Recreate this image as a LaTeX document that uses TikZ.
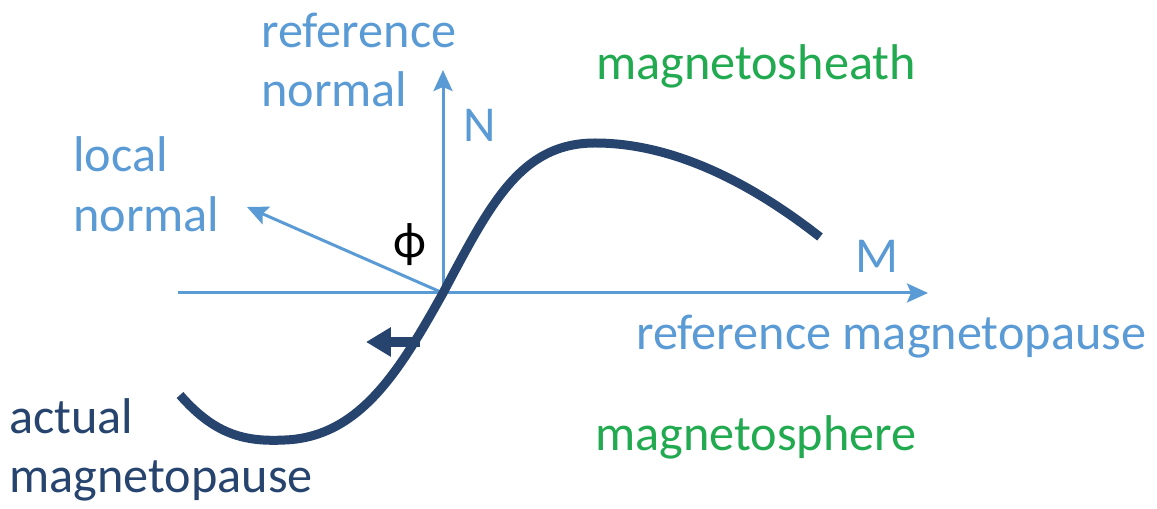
\documentclass[tikz,border=0pt]{standalone}
\usepackage{fontspec}
\setmainfont{Carlito}
\usepackage{tikz}
\usetikzlibrary{arrows.meta}

\definecolor{lightblue}{RGB}{91,155,213}
\definecolor{darkblue}{RGB}{38,68,110}
\definecolor{labelgreen}{RGB}{34,170,80}

\begin{document}
\begin{tikzpicture}[
    x=0.02cm, y=-0.02cm,
    txt/.style={inner sep=0pt, font=\fontsize{28.6}{34}\selectfont},
    bluetxt/.style={txt, text=lightblue},
    greentxt/.style={txt, text=labelgreen},
    axis/.style={-{Stealth[length=0.42cm, width=0.38cm, inset=0.08cm]}, line width=0.06cm, color=lightblue},
    mpcurve/.style={line width=0.18cm, color=darkblue},
    shiftarrow/.style={-{Triangle[length=0.5cm, width=0.56cm]}, line width=0.19cm, color=darkblue}
]
    \useasboundingbox (0,0) rectangle (1157,509);

    % Points
    \coordinate (origin) at (443,293);
    \coordinate (west) at (178,293);
    \coordinate (east) at (928,293);
    \coordinate (north) at (443,70);
    \coordinate (local) at (247,207);
    \coordinate (shiftstart) at (420,342);
    \coordinate (shiftend) at (366,342);

    % Labels
    \node[bluetxt, align=left, anchor=west] (refnormal) at (261,60) {reference\\normal};
    \node[bluetxt, align=left, anchor=west] (locnormal) at (73,184) {local\\normal};
    \node[bluetxt] (nlabel) at (480,125) {N};
    \node[bluetxt] (mlabel) at (877,256) {M};
    \node[txt] (phi) at (410,245) {ϕ};
    \node[bluetxt, anchor=west] (refmp) at (636,337) {reference magnetopause};
    \node[greentxt] (sheath) at (756,66) {magnetosheath};
    \node[greentxt] (sphere) at (756,437) {magnetosphere};
    \node[txt, text=darkblue, align=left, anchor=west] (actual) at (9,450) {actual\\magnetopause};

    % Axes
    \draw[axis] (west) -- (east);
    \draw[axis] (origin) -- (north);
    \draw[axis] (origin) -- (local);

    % Actual magnetopause
    \draw[mpcurve] (180,395) .. controls (215,435) and (245,442) .. (285,440)
        .. controls (360,437) and (400,370) .. (origin)
        .. controls (490,205) and (520,143) .. (595,143)
        .. controls (680,143) and (760,190) .. (820,237);
    \draw[shiftarrow] (shiftstart) -- (shiftend);

\end{tikzpicture}
\end{document}
